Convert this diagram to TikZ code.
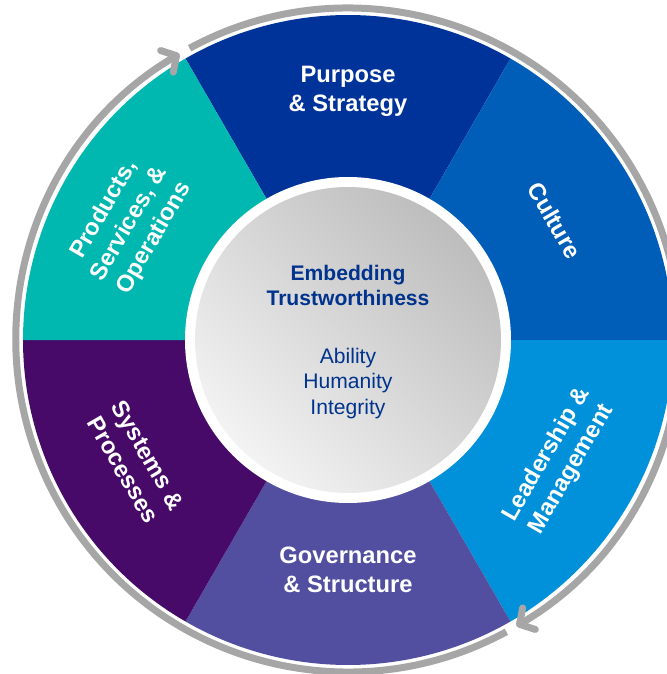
\documentclass[tikz,border=0pt]{standalone}
\usepackage{fontspec}
\setmainfont{Liberation Sans}
\usetikzlibrary{arrows.meta}
\definecolor{purposeblue}{HTML}{00339A}
\definecolor{cultureblue}{HTML}{005EB8}
\definecolor{leadblue}{HTML}{0091DA}
\definecolor{govpurple}{HTML}{524FA1}
\definecolor{syspurple}{HTML}{470A68}
\definecolor{prodteal}{HTML}{00B8B0}
\definecolor{ringgray}{HTML}{A6A6A6}
\definecolor{hubblue}{HTML}{00338D}
\definecolor{hubdark}{HTML}{BDBDBD}
\definecolor{hublight}{HTML}{F3F3F3}
\begin{document}
\begin{tikzpicture}[
  seglabel/.style={text=white,font=\bfseries\fontsize{13.5}{16.4}\selectfont,align=center},
  hublabel/.style={text=hubblue,font=\fontsize{12}{14.7}\selectfont,align=center},
  hubtitle/.style={hublabel,font=\bfseries\fontsize{12}{14.7}\selectfont},
  ring/.style={draw=ringgray,line width=0.14cm,-{Straight Barb[length=0.22cm,width=0.5cm,round]}}
]
\useasboundingbox (-6.96,-6.68) rectangle (6.38,6.8);
\fill[purposeblue] (0,0)--(60:6.5) arc[start angle=60,end angle=120,radius=6.5]--cycle;
\fill[cultureblue] (0,0)--(0:6.5) arc[start angle=0,end angle=60,radius=6.5]--cycle;
\fill[leadblue] (0,0)--(-60:6.5) arc[start angle=-60,end angle=0,radius=6.5]--cycle;
\fill[govpurple] (0,0)--(-120:6.5) arc[start angle=-120,end angle=-60,radius=6.5]--cycle;
\fill[syspurple] (0,0)--(180:6.5) arc[start angle=180,end angle=240,radius=6.5]--cycle;
\fill[prodteal] (0,0)--(120:6.5) arc[start angle=120,end angle=180,radius=6.5]--cycle;
\fill[white] (0,0) circle[radius=3.26];
\shade[top color=hubdark,bottom color=hublight,shading angle=-45] (0,0) circle[radius=3.06];
\draw[ring] (-61.5:6.64) arc[start angle=-61.5,end angle=-239.5,radius=6.64];
\draw[ring] (118.5:6.64) arc[start angle=118.5,end angle=-59.5,radius=6.64];
\node[seglabel] (purpose) at (0,4.97) {Purpose\\\& Strategy};
\node[seglabel,rotate=-60] (culture) at (30:4.78) {Culture};
\node[seglabel,rotate=60] (leadership) at (-30:4.88) {Leadership \&\\Management};
\node[seglabel] (governance) at (0,-4.6) {Governance\\\& Structure};
\node[seglabel,rotate=-60] (systems) at (210:4.9) {Systems \&\\Processes};
\node[seglabel,rotate=60] (products) at (152:4.95) {Products,\\Services, \&\\Operations};
\node[hubtitle] (embedding) at (0,1.09) {Embedding\\Trustworthiness};
\node[hublabel] (traits) at (0,-0.87) {Ability\\Humanity\\Integrity};
\end{tikzpicture}
\end{document}
